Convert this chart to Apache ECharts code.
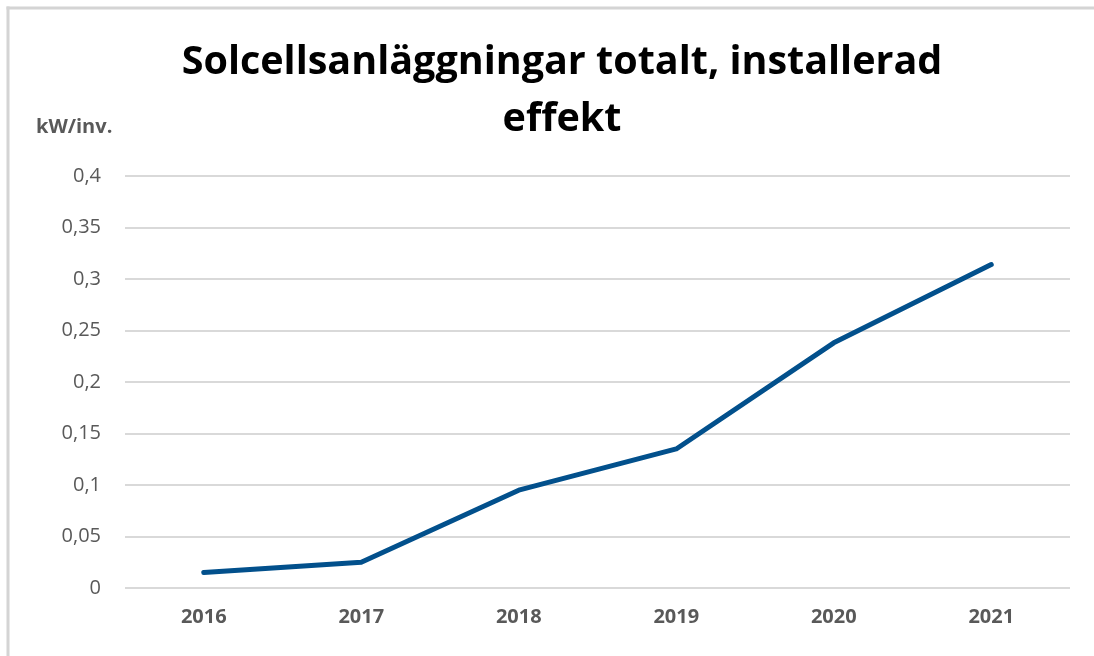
<!DOCTYPE html>
<html>
<head>
<meta charset="utf-8">
<script src="https://cdn.jsdelivr.net/npm/echarts@6/dist/echarts.min.js"></script>
<style>
  html, body { margin: 0; padding: 0; background: #fff; overflow: hidden; }
  #main { width: 1094px; height: 656px; }
</style>
</head>
<body>
<div id="main"></div>
<script>
  // år och installerad effekt per invånare
  var years = ['2016', '2017', '2018', '2019', '2020', '2021'];
  var kwPerInv = [0.015, 0.025, 0.095, 0.135, 0.238, 0.314];
  var yTicks = { min: 0, max: 0.4, interval: 0.05 };

  var chart = echarts.init(document.getElementById('main'));
  chart.setOption({
    animation: false,
    textStyle: { fontFamily: 'Open Sans' },
    graphic: [
      // ram, bara vänster och överkant syns
      {
        type: 'line',
        shape: { x1: 8, y1: 6.5, x2: 8, y2: 656 },
        style: { stroke: '#d4d4d4', lineWidth: 3 }
      },
      {
        type: 'line',
        shape: { x1: 6.5, y1: 8, x2: 1094, y2: 8 },
        style: { stroke: '#d4d4d4', lineWidth: 3 }
      },
      {
        type: 'text',
        left: 36,
        top: 117,
        style: { text: 'kW/inv.', fill: '#595959', font: 'bold 20px "Open Sans"' }
      }
    ],
    title: {
      text: 'Solcellsanläggningar totalt, installerad\neffekt',
      left: 557,
      top: 29,
      textAlign: 'center',
      textStyle: {
        fontFamily: 'Open Sans',
        fontWeight: 'bold',
        fontSize: 39.5,
        lineHeight: 57,
        color: '#000'
      }
    },
    grid: { left: 125, right: 24, top: 176, bottom: 68 },
    xAxis: {
      type: 'category',
      data: years,
      axisLine: { show: false },
      axisTick: { show: false },
      axisLabel: { color: '#595959', fontSize: 20, fontWeight: 'bold', margin: 19 }
    },
    yAxis: {
      type: 'value',
      min: yTicks.min,
      max: yTicks.max,
      interval: yTicks.interval,
      axisLine: { show: false },
      axisTick: { show: false },
      splitLine: { lineStyle: { color: '#d9d9d9', width: 2 } },
      axisLabel: {
        color: '#595959',
        fontSize: 20,
        margin: 24,
        formatter: function (v) { return String(+v.toFixed(2)).replace('.', ','); }
      }
    },
    series: [{
      type: 'line',
      data: kwPerInv,
      symbol: 'none',
      lineStyle: { color: '#02508c', width: 5, cap: 'round', join: 'round' }
    }]
  });
</script>
</body>
</html>
